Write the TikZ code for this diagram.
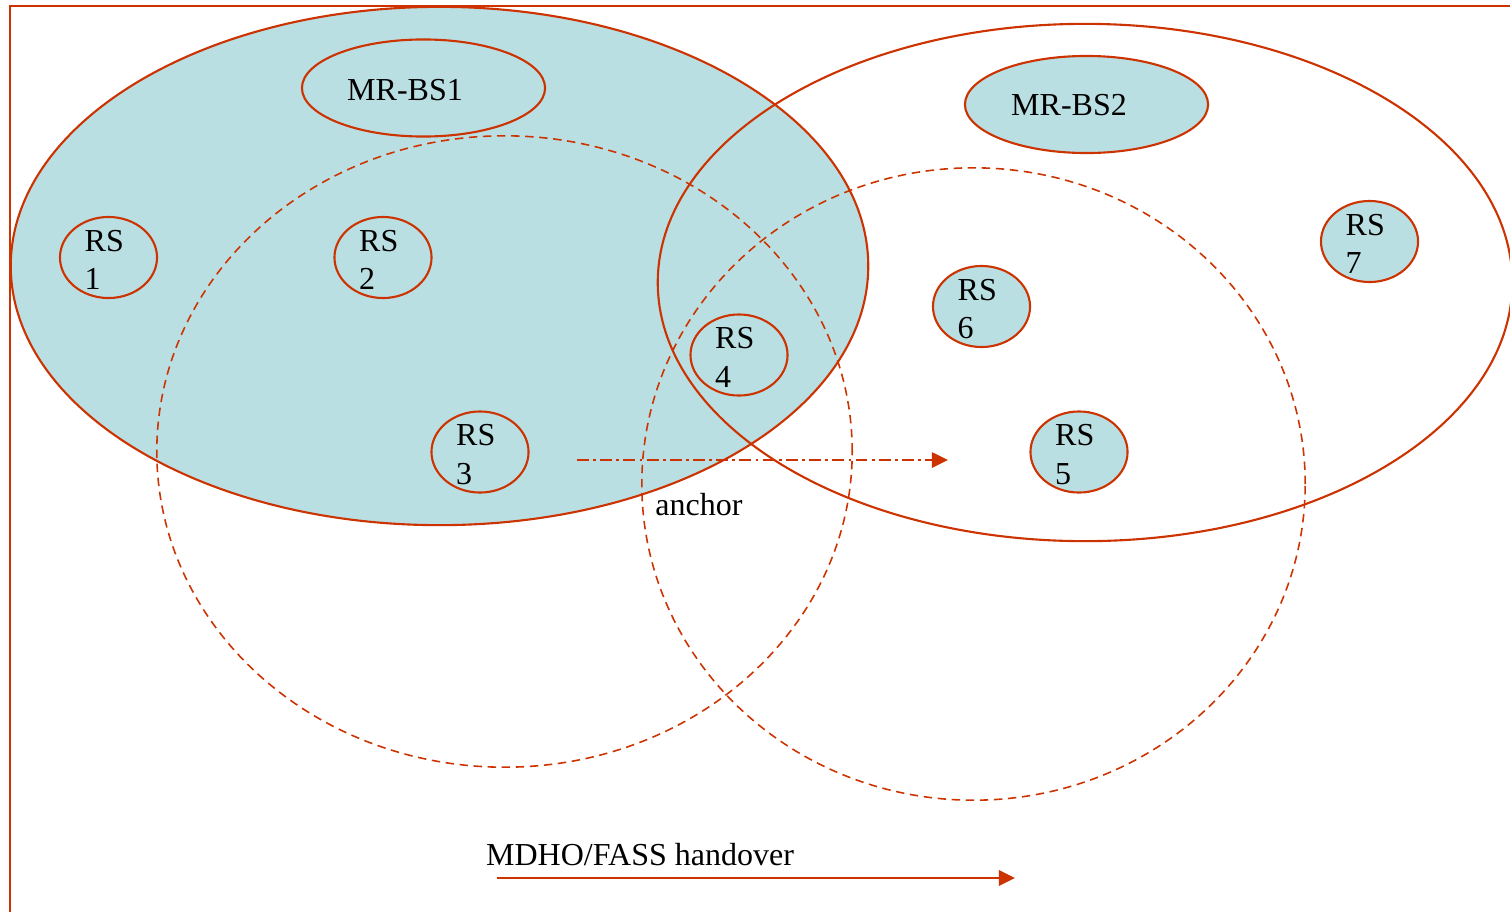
\documentclass[tikz,border=0pt]{standalone}
\usepackage{fontspec}
\setmainfont{Liberation Serif}
\usepackage{tikz}
\usetikzlibrary{arrows.meta,positioning,shapes.geometric}
\definecolor{celledge}{HTML}{CC3300}
\definecolor{cellfill}{HTML}{BADFE2}
\tikzset{
  cell/frame/.style={draw=celledge, line width=0.6pt},
  cell/macro/.style={draw=celledge, ellipse, line width=0.6pt, inner sep=0pt},
  cell/range/.style={draw=celledge, ellipse, line width=0.45pt, dash pattern=on 2.4pt off 1.6pt, inner sep=0pt},
  cell/bs/.style={draw=celledge, fill=cellfill, ellipse, line width=0.6pt, inner sep=0pt, minimum width=2.43cm, minimum height=0.97cm},
  cell/rs/.style={draw=celledge, fill=cellfill, ellipse, line width=0.6pt, inner sep=0pt, minimum width=0.97cm, minimum height=0.81cm},
  cell/label/.style={font=\fontsize{9.1}{10.9}\selectfont, align=left, inner sep=0pt},
  cell/rstext/.style={cell/label, xshift=-1.2pt, yshift=-0.7pt},
  cell/move/.style={draw=celledge, line width=0.6pt, -{Triangle[length=4.6pt,width=4.4pt]}},
  cell/anchormove/.style={cell/move, line width=0.45pt, dash pattern=on 3.4pt off 1.2pt on 0.8pt off 1.2pt}
}

\begin{document}
\begin{tikzpicture}[x=0.01cm, y=-0.01cm]
  \useasboundingbox (0,0) rectangle (1510,912);
  \draw[cell/frame] (10,912) |- (1510,6);

  % Coverage areas of the two base stations
  \node[cell/macro, fill=cellfill, minimum width=8.57cm, minimum height=5.18cm] (cov1) at (439.5,266) {};
  \node[cell/macro, minimum width=8.54cm, minimum height=5.17cm] (cov2) at (1085,282.5) {};

  % Relay ranges
  \node[cell/range, minimum width=6.95cm, minimum height=6.31cm] (range1) at (504.5,451.5) {};
  \node[cell/range, minimum width=6.63cm, minimum height=6.32cm] (range2) at (973.5,484) {};

  % Base stations
  \node[cell/bs] (bs1) at (423.5,88) {};
  \node[cell/label] (bs1txt) at (405,90) {MR-BS1};
  \node[cell/bs] (bs2) at (1086.5,104.5) {};
  \node[cell/label] (bs2txt) at (1069,105) {MR-BS2};

  % Relay stations
  \node[cell/rs, fill=none] (rs1) at (108.5,257.5) {};
  \node[cell/rstext] (rs1txt) at (rs1) {RS\\1};
  \node[cell/rs, fill=none] (rs2) at (383,257.5) {};
  \node[cell/rstext] (rs2txt) at (rs2) {RS\\2};
  \node[cell/rs, fill=none] (rs3) at (480,452) {};
  \node[cell/rstext] (rs3txt) at (rs3) {RS\\3};
  \node[cell/rs, fill=none] (rs4) at (739,355) {};
  \node[cell/rstext] (rs4txt) at (rs4) {RS\\4};
  \node[cell/rs] (rs5) at (1079,452) {};
  \node[cell/rstext] (rs5txt) at (rs5) {RS\\5};
  \node[cell/rs] (rs6) at (981.5,306.5) {};
  \node[cell/rstext] (rs6txt) at (rs6) {RS\\6};
  \node[cell/rs] (rs7) at (1369.5,241.5) {};
  \node[cell/rstext] (rs7txt) at (rs7) {RS\\7};

  % Anchor change
  \coordinate (anchorfrom) at (577,460);
  \coordinate (anchorto) at (948,460);
  \draw[cell/anchormove] (anchorfrom) -- (anchorto);
  \node[cell/label] (anchortxt) at (699,505) {anchor};

  % Handover direction
  \coordinate (hofrom) at (497,878);
  \coordinate (hoto) at (1015,878);
  \draw[cell/move] (hofrom) -- (hoto);
  \node[cell/label, above right=3.2pt and -3.3pt of hofrom] (hotxt) {MDHO/FASS handover};
\end{tikzpicture}
\end{document}
